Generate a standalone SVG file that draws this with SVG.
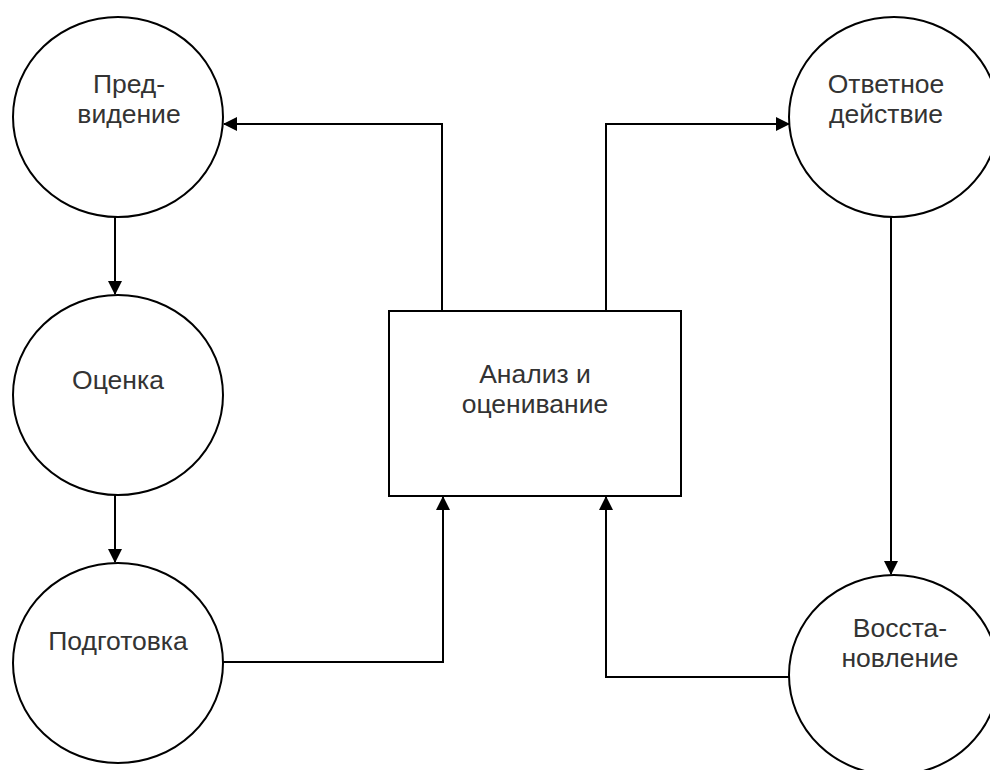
<svg xmlns="http://www.w3.org/2000/svg" width="990" height="770" viewBox="0 0 990 770">
<style>
.node{fill:#fff;stroke:#000;stroke-width:2}
.lbl{font-family:"Liberation Sans",Arial,sans-serif;font-size:26.5px;fill:#333;text-anchor:middle}
.edge{fill:none;stroke:#000;stroke-width:2}
</style>
<defs>
<marker id="arr" viewBox="0 0 14 14" refX="13" refY="7" markerWidth="14" markerHeight="14" markerUnits="userSpaceOnUse" orient="auto">
<path d="M0,0 L14,7 L0,14 Z" fill="#000"/>
</marker>
</defs>
<rect width="990" height="770" fill="#fff"/>
<g id="connectors">
<path class="edge" d="M442,311 V124 H224" marker-end="url(#arr)"/>
<path class="edge" d="M606,311 V124 H789" marker-end="url(#arr)"/>
<path class="edge" d="M115,217 V294" marker-end="url(#arr)"/>
<path class="edge" d="M115,495 V562" marker-end="url(#arr)"/>
<path class="edge" d="M891,217 V574" marker-end="url(#arr)"/>
<path class="edge" d="M223,662 H443 V497" marker-end="url(#arr)"/>
<path class="edge" d="M790,677 H606 V497" marker-end="url(#arr)"/>
</g>
<g id="n-predvidenie">
<ellipse class="node" cx="118" cy="117" rx="105" ry="100"/>
<text class="lbl" x="129" y="93">Пред-</text>
<text class="lbl" x="129" y="123">видение</text>
</g>
<g id="n-ocenka">
<ellipse class="node" cx="118" cy="395" rx="105" ry="100"/>
<text class="lbl" x="118" y="389">Оценка</text>
</g>
<g id="n-podgotovka">
<ellipse class="node" cx="118" cy="663" rx="105" ry="100"/>
<text class="lbl" x="118" y="650">Подготовка</text>
</g>
<g id="n-analiz">
<rect class="node" x="389" y="311" width="292" height="185"/>
<text class="lbl" x="535" y="383">Анализ и</text>
<text class="lbl" x="535" y="413">оценивание</text>
</g>
<g id="n-otvet">
<ellipse class="node" cx="894" cy="117" rx="105" ry="100"/>
<text class="lbl" x="886" y="93">Ответное</text>
<text class="lbl" x="886" y="123">действие</text>
</g>
<g id="n-vosst">
<ellipse class="node" cx="894" cy="675" rx="105" ry="100"/>
<text class="lbl" x="900" y="637">Восста-</text>
<text class="lbl" x="900" y="667">новление</text>
</g>
</svg>
